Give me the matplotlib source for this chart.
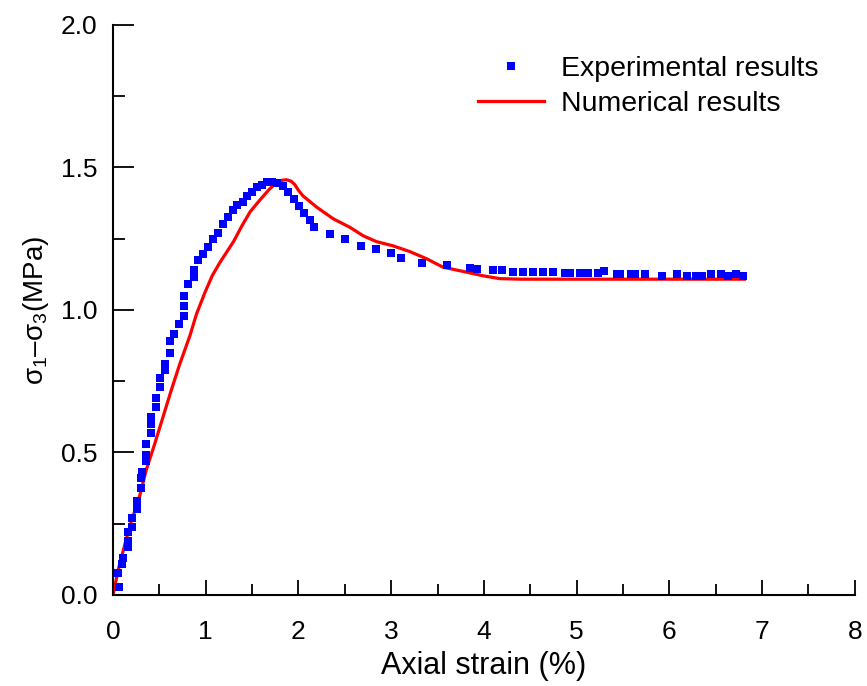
import numpy as np
import matplotlib
matplotlib.use('Agg')
import matplotlib.pyplot as plt
from matplotlib.ticker import MultipleLocator

plt.rcParams['font.family'] = ['Liberation Sans', 'DejaVu Sans']
plt.rcParams['mathtext.fontset'] = 'custom'
plt.rcParams['mathtext.rm'] = 'Liberation Sans'
plt.rcParams['mathtext.it'] = 'Liberation Sans'
plt.rcParams['mathtext.default'] = 'regular'

# experimental points (axial strain %, deviatoric stress MPa)
exp_x = [0.057, 0.065, 0.10, 0.11, 0.16, 0.16, 0.16, 0.21, 0.21, 0.26, 0.26,
         0.30, 0.30, 0.31, 0.36, 0.36, 0.36, 0.41, 0.41, 0.41, 0.46, 0.46,
         0.51, 0.51, 0.56, 0.56, 0.61, 0.61, 0.66, 0.715, 0.77, 0.77, 0.77,
         0.81, 0.87, 0.87, 0.92, 0.97, 1.02, 1.08, 1.13, 1.19, 1.24, 1.29,
         1.34, 1.40, 1.45, 1.50, 1.555, 1.61, 1.66, 1.71, 1.765, 1.83, 1.89,
         1.95, 2.005, 2.06, 2.12, 2.17, 2.34, 2.505, 2.67, 2.835, 3.00, 3.11,
         3.33, 3.60, 3.85, 3.93, 4.10, 4.20, 4.31, 4.42, 4.53, 4.64, 4.74,
         4.87, 4.93, 5.04, 5.12, 5.23, 5.30, 5.43, 5.47, 5.59, 5.63, 5.74,
         5.92, 6.08, 6.19, 6.29, 6.35, 6.45, 6.56, 6.63, 6.72, 6.79]
exp_y = [0.077, 0.028, 0.11, 0.13, 0.17, 0.19, 0.22, 0.24, 0.27, 0.30, 0.33,
         0.375, 0.41, 0.43, 0.47, 0.49, 0.53, 0.57, 0.60, 0.625, 0.66, 0.69,
         0.73, 0.76, 0.79, 0.81, 0.85, 0.89, 0.917, 0.95, 0.98, 1.015, 1.05,
         1.09, 1.115, 1.14, 1.175, 1.198, 1.22, 1.25, 1.27, 1.30, 1.325, 1.35,
         1.37, 1.38, 1.40, 1.415, 1.43, 1.44, 1.448, 1.45, 1.445, 1.435, 1.415,
         1.39, 1.366, 1.34, 1.316, 1.29, 1.265, 1.249, 1.223, 1.215, 1.199, 1.182,
         1.166, 1.158, 1.148, 1.143, 1.14, 1.14, 1.134, 1.134, 1.134, 1.134, 1.134,
         1.129, 1.129, 1.129, 1.129, 1.129, 1.137, 1.127, 1.125, 1.125, 1.125, 1.125,
         1.12, 1.125, 1.12, 1.12, 1.12, 1.127, 1.127, 1.12, 1.125, 1.12]

# numerical curve
num_x = [0, 0.057, 0.13, 0.20, 0.29, 0.36, 0.45, 0.54, 0.63, 0.72, 0.83,
         0.90, 0.99, 1.07, 1.15, 1.23, 1.30, 1.39, 1.48, 1.585, 1.69, 1.76,
         1.82, 1.87, 1.92, 1.96, 2.00, 2.05, 2.20, 2.375, 2.555, 2.70, 2.84,
         3.02, 3.20, 3.38, 3.56, 3.78, 3.99, 4.17, 4.4, 5.0, 6.0, 6.81]
num_y = [0, 0.088, 0.18, 0.26, 0.35, 0.44, 0.53, 0.625, 0.72, 0.81, 0.91,
         0.985, 1.06, 1.12, 1.165, 1.205, 1.24, 1.295, 1.345, 1.386, 1.425, 1.445,
         1.455, 1.457, 1.452, 1.44, 1.42, 1.40, 1.36, 1.32, 1.29, 1.26, 1.24,
         1.225, 1.205, 1.18, 1.15, 1.135, 1.12, 1.11, 1.108, 1.108, 1.108, 1.108]

fig = plt.figure(figsize=(8.67, 6.86), dpi=100)
ax = fig.add_axes([0.1303, 0.1327, 0.8557, 0.8309])

ax.plot(exp_x, exp_y, 's', color='#0000ff', markersize=5.4, markeredgewidth=0,
        label='Experimental results', zorder=3)
ax.plot(num_x, num_y, '-', color='#ff0000', linewidth=2.3,
        label='Numerical results', zorder=2)

ax.set_xlim(0, 8)
ax.set_ylim(0, 2.0)
ax.xaxis.set_major_locator(MultipleLocator(1))
ax.xaxis.set_minor_locator(MultipleLocator(0.5))
ax.yaxis.set_major_locator(MultipleLocator(0.5))
ax.yaxis.set_minor_locator(MultipleLocator(0.25))
ax.set_yticks([0, 0.5, 1.0, 1.5, 2.0])
ax.set_yticklabels(['0.0', '0.5', '1.0', '1.5', '2.0'])

for s in ['top', 'right']:
    ax.spines[s].set_visible(False)
for s in ['left', 'bottom']:
    ax.spines[s].set_linewidth(1.5)

ax.tick_params(axis='x', which='major', direction='in', length=11, width=1.3,
               labelsize=19, pad=18)
ax.tick_params(axis='x', which='minor', direction='in', length=8, width=1.3)
ax.tick_params(axis='y', which='major', direction='in', length=15, width=1.3,
               labelsize=19, pad=11)
ax.tick_params(axis='y', which='minor', direction='in', length=8.6, width=1.3)

ax.set_xlabel('Axial strain (%)', fontsize=22, labelpad=5)
ax.set_ylabel('σ$_1$–σ$_3$(MPa)', fontsize=20, labelpad=7)

ax.legend(loc='upper right', bbox_to_anchor=(0.985, 0.99), frameon=False,
          fontsize=20.5, handlelength=2.3, handletextpad=0.6, labelspacing=0.3,
          markerscale=1.0)

fig.savefig('out.png', dpi=100)
